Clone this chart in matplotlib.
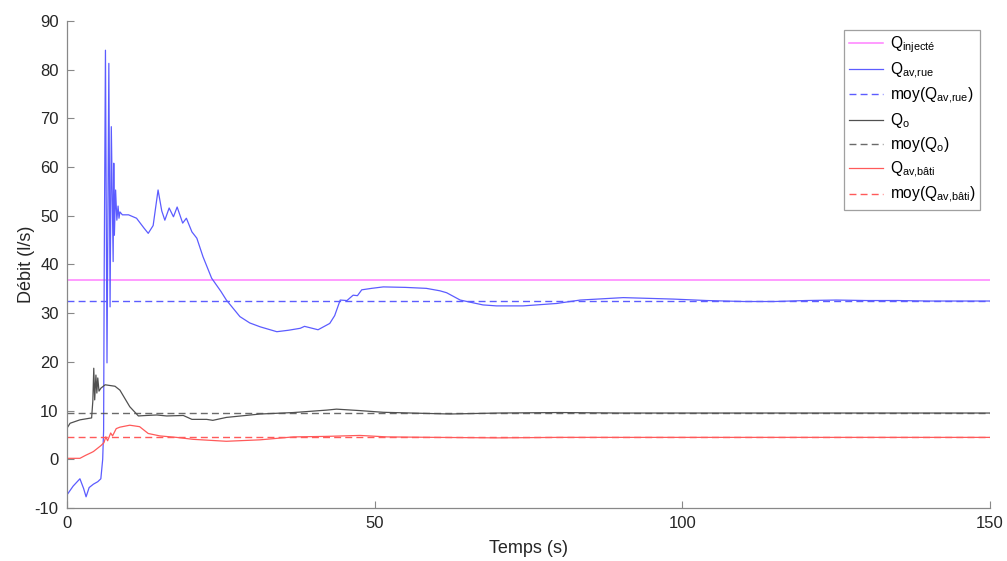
import matplotlib
matplotlib.use("Agg")
import matplotlib.pyplot as plt
import numpy as np

plt.rcParams['font.family'] = ['Liberation Sans', 'DejaVu Sans']
plt.rcParams['mathtext.fontset'] = 'custom'
plt.rcParams['mathtext.rm'] = 'Liberation Sans'
plt.rcParams['mathtext.it'] = 'Liberation Sans'
plt.rcParams['axes.unicode_minus'] = False

# ---- data ----
q_injecte = 36.8
moy_av_rue = 32.6
moy_o = 9.6
moy_av_bati = 4.5

t_rue = [0, 1, 2.1, 2.7, 3.1, 3.6, 4.3, 5.0, 5.5, 5.8, 5.95, 6.05, 6.25, 6.5, 6.8, 7.0,
         7.2, 7.5, 7.6, 7.7, 7.9, 8.1, 8.3, 8.45, 8.6, 9, 10, 11.3, 12.5, 13.2, 14.0,
         14.8, 15.4, 15.9, 16.6, 17.3, 17.9, 18.8, 19.4, 20.3, 21.1, 22.1, 23.5, 25.0,
         25.9, 28.1, 29.7, 31.4, 34.1, 36, 37.9, 38.6, 40.8, 42.7, 43.5, 44.4, 45.5,
         46.5, 47.2, 47.9, 49.5, 51.4, 55, 58.4, 60.6, 61.7, 63.9, 67.6, 69.8, 74.1,
         79.6, 83.4, 90.4, 98.5, 104, 110, 115, 120, 125, 130, 135, 140, 145, 150]
q_av_rue = [-7.3, -5.5, -4.0, -6.0, -7.7, -5.8, -5.1, -4.6, -4.0, 0, 6, 40, 84, 19.8,
            81.3, 31.3, 68.3, 40.6, 60.8, 46, 55.3, 49.1, 52, 49.5, 50.8, 50.2, 50.2,
            49.5, 47.5, 46.4, 48, 55.3, 51, 49.1, 51.6, 49.8, 51.8, 48.5, 49.5, 46.7,
            45.4, 41.6, 37.2, 34.5, 32.7, 29.3, 28.0, 27.2, 26.2, 26.5, 26.9, 27.3,
            26.6, 27.9, 29.5, 32.7, 32.6, 33.7, 33.6, 34.8, 35.1, 35.4, 35.3, 35.1,
            34.6, 34.2, 32.7, 31.7, 31.5, 31.5, 32.0, 32.7, 33.2, 32.9, 32.6, 32.4,
            32.4, 32.6, 32.7, 32.6, 32.6, 32.5, 32.5, 32.5]

t_o = [0, 0.5, 2.1, 4.0, 4.2, 4.35, 4.5, 4.7, 4.85, 5.0, 5.2, 5.5, 6.2, 7.8, 8.6,
       10.2, 11.6, 12.9, 14.6, 16.2, 18.9, 20.3, 22.7, 23.7, 25.9, 31.4, 36.8,
       42.2, 43.8, 47.6, 51.4, 56, 62.2, 70, 80, 90, 100, 110, 120, 130, 140, 150]
q_o = [6.4, 7.4, 8.1, 8.5, 12, 18.7, 12.2, 17.3, 13.6, 16.7, 14.0, 14.6, 15.3, 15.0,
       14.2, 10.8, 8.9, 9.0, 9.1, 8.9, 9.0, 8.2, 8.2, 8.0, 8.6, 9.3, 9.6, 10.1, 10.3,
       10.0, 9.65, 9.5, 9.3, 9.5, 9.6, 9.5, 9.5, 9.5, 9.5, 9.5, 9.5, 9.5]

t_bati = [0, 2.1, 3.0, 4.0, 4.3, 5.5, 6.0, 6.3, 6.6, 7.1, 7.4, 8.0, 8.6, 10.2, 11.8,
          13.2, 15.1, 17.8, 20.5, 25.9, 31.4, 36.8, 42, 47.6, 52, 60, 70, 80, 90,
          100, 110, 120, 130, 140, 150]
q_av_bati = [0.2, 0.2, 0.8, 1.4, 1.6, 2.8, 3.4, 4.6, 3.8, 5.4, 4.8, 6.3, 6.6, 7.0, 6.7,
             5.3, 4.8, 4.5, 4.1, 3.7, 4.0, 4.6, 4.7, 4.9, 4.6, 4.5, 4.4, 4.5, 4.5,
             4.5, 4.5, 4.5, 4.5, 4.5, 4.5]

x_ticks = [0, 50, 100, 150]
y_ticks = [-10, 0, 10, 20, 30, 40, 50, 60, 70, 80, 90]

# ---- colors ----
c_mag = '#ff80ff'
c_blue = '#5c5cff'
c_blk = '#505050'
c_red = '#ff5a5a'

fig = plt.figure(figsize=(10.07, 5.61), dpi=100)
ax = fig.add_axes([67 / 1007, 1 - 508 / 561, (990 - 67) / 1007, (508 - 21) / 561])

ax.axhline(q_injecte, color=c_mag, lw=1.1, label=r'$\mathrm{Q}_{\mathrm{injecté}}$')
ax.plot(t_rue, q_av_rue, color=c_blue, lw=0.9, label=r'$\mathrm{Q}_{\mathrm{av{,}rue}}$')
ax.axhline(moy_av_rue, color=c_blue, lw=1.0, ls=(0, (5, 3)),
           label=r'moy($\mathrm{Q}_{\mathrm{av{,}rue}}$)')
ax.plot(t_o, q_o, color=c_blk, lw=0.9, label=r'$\mathrm{Q}_{\mathrm{o}}$')
ax.axhline(moy_o, color=c_blk, lw=1.0, ls=(0, (5, 3)), alpha=0.85,
           label=r'moy($\mathrm{Q}_{\mathrm{o}}$)')
ax.plot(t_bati, q_av_bati, color=c_red, lw=0.9, label=r'$\mathrm{Q}_{\mathrm{av{,}bâti}}$')
ax.axhline(moy_av_bati, color=c_red, lw=1.0, ls=(0, (5, 3)),
           label=r'moy($\mathrm{Q}_{\mathrm{av{,}bâti}}$)')

ax.set_xlim(0, 150)
ax.set_ylim(-10, 90)
ax.set_xticks(x_ticks)
ax.set_yticks(y_ticks)
ax.tick_params(direction='in', length=5, width=0.8, color='#888888',
               labelsize=12, labelcolor='#262626', pad=6)
for s in ['top', 'right']:
    ax.spines[s].set_visible(False)
for s in ['left', 'bottom']:
    ax.spines[s].set_color('#888888')
    ax.spines[s].set_linewidth(0.9)

ax.set_xlabel('Temps (s)', fontsize=13, color='#262626', labelpad=6)
ax.set_ylabel('Débit (l/s)', fontsize=13, color='#262626', labelpad=0)

leg = ax.legend(loc='upper right', bbox_to_anchor=(0.9895, 0.9815), fontsize=11.2,
                frameon=True, fancybox=False, edgecolor='#888888',
                handlelength=2.2, handletextpad=0.45, borderpad=0.3, labelspacing=0.33,
                borderaxespad=0)
leg.get_frame().set_linewidth(0.9)

fig.savefig('out.png', dpi=100)
